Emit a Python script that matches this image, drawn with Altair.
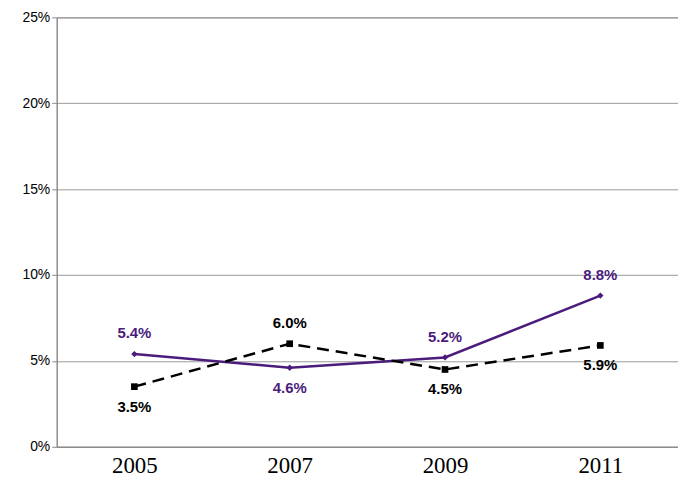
import pandas as pd
import altair as alt

years = ["2005", "2007", "2009", "2011"]
purple_vals = [5.4, 4.6, 5.2, 8.8]
black_vals = [3.5, 6.0, 4.5, 5.9]
purple_pos = ["above", "below", "above", "above"]
black_pos = ["below", "above", "below", "below"]

df = pd.DataFrame({
    "year": years * 2,
    "value": purple_vals + black_vals,
    "series": ["purple"] * 4 + ["black"] * 4,
    "pos": purple_pos + black_pos,
})
df["label"] = df["value"].map(lambda v: f"{v:.1f}%")

PURPLE = "#4B1C7C"
colors = alt.Scale(domain=["purple", "black"], range=[PURPLE, "#000000"])

x = alt.X("year:N", title=None, scale=alt.Scale(paddingInner=0, paddingOuter=0, align=0.5),
          axis=alt.Axis(labelFont="Liberation Serif", labelFontSize=23, labelColor="black",
                        labelAngle=0, ticks=False, domainColor="#888", labelPadding=8))
y = alt.Y("value:Q", title=None, scale=alt.Scale(domain=[0, 25]),
          axis=alt.Axis(values=[0, 5, 10, 15, 20, 25], labelExpr="datum.value + '%'",
                        labelFont="Liberation Sans", labelFontSize=14, labelColor="black",
                        gridColor="#999", ticks=True, tickColor="#888", domainColor="#888"))

base = alt.Chart(df)
purple_line = base.transform_filter("datum.series == 'purple'").mark_line(
    color=PURPLE, strokeWidth=2.5, point=alt.OverlayMarkDef(shape="diamond", size=40, color=PURPLE, filled=True, opacity=1)
).encode(x=x, y=y)
black_line = base.transform_filter("datum.series == 'black'").mark_line(
    color="black", strokeWidth=2.5, strokeDash=[12, 7],
    point=alt.OverlayMarkDef(shape="square", size=45, color="black", filled=True, opacity=1)
).encode(x=x, y=y)


def text_layer(pos, dy):
    return base.transform_filter(f"datum.pos == '{pos}'").mark_text(
        font="Liberation Sans", fontSize=15, fontWeight="bold", dy=dy
    ).encode(x=x, y=y, text="label:N",
             color=alt.Color("series:N", scale=colors, legend=None))


chart = alt.layer(purple_line, black_line, text_layer("above", -21), text_layer("below", 20)).properties(
    width=625, height=432,
    autosize=alt.AutoSizeParams(type="none"),
    padding={"left": 49, "top": 8, "right": 0, "bottom": 30},
).configure_view(stroke="#888")

chart.save("out.html", embed_options={"renderer": "svg", "actions": False})
